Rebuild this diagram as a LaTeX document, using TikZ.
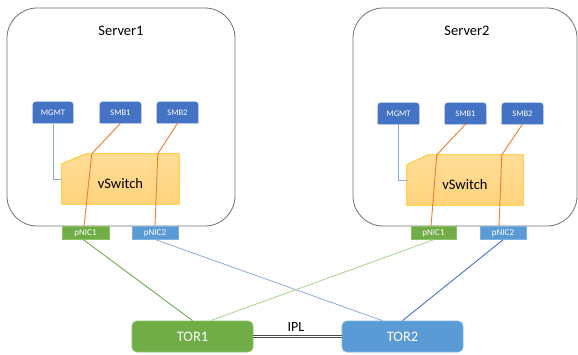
\documentclass[tikz,border=0pt]{standalone}
\usepackage{fontspec}
\setmainfont{Carlito}
\usetikzlibrary{backgrounds,calc}
\definecolor{srvgray}{HTML}{707070}
\definecolor{tabblue}{HTML}{4472C4}
\definecolor{tabedge}{HTML}{5A86D2}
\definecolor{nicgreen}{HTML}{70AD47}
\definecolor{nicgreenedge}{HTML}{8CC168}
\definecolor{nicblue}{HTML}{5B9BD5}
\definecolor{nicblueedge}{HTML}{7FB1E0}
\definecolor{vstop}{HTML}{FFDD98}
\definecolor{vsbottom}{HTML}{FFD37C}
\definecolor{vsedge}{HTML}{FFC000}
\definecolor{vlan}{HTML}{ED7D31}
\definecolor{mgmtline}{HTML}{8FAADC}
\definecolor{lightgreen}{HTML}{A9D18E}
\definecolor{lightblue}{HTML}{8FAADC}
\definecolor{darkblue}{HTML}{4472C4}
\begin{document}
\begin{tikzpicture}[x=1pt,y=-1pt,
  every node/.style={inner sep=0pt},
  server/.style={draw=srvgray, line width=0.8pt, rounded corners=30pt, minimum height=218pt},
  title/.style={font=\fontsize{14.5}{17}\selectfont},
  tab/.style={minimum width=41pt, minimum height=21pt, text=white, font=\fontsize{8.5}{10}\selectfont},
  tabshape/.style={fill=tabblue, draw=tabedge, line width=0.5pt},
  nicg/.style={fill=nicgreen, draw=nicgreenedge, line width=0.6pt, minimum height=13pt, text=white, font=\fontsize{9}{10}\selectfont},
  nicb/.style={fill=nicblue, draw=nicblueedge, line width=0.6pt, minimum height=13pt, text=white, font=\fontsize{9}{10}\selectfont},
  switchbox/.style={minimum height=50pt, font=\fontsize{14.5}{17}\selectfont, text height=19pt},
  switchshape/.style={top color=vstop, bottom color=vsbottom, draw=vsedge, line width=0.7pt},
  tor/.style={minimum width=121pt, minimum height=31pt, rounded corners=5pt, text=white, font=\fontsize{14.5}{17}\selectfont, line width=0.7pt},
  vlanline/.style={draw=vlan, line width=0.9pt},
  mgmtlink/.style={draw=mgmtline, line width=0.9pt},
]
\useasboundingbox (0,0) rectangle (578,354);

% servers
\node[server, minimum width=228pt] (srv1) at (121,117) {};
\node[server, minimum width=224pt] (srv2) at (465,117) {};
\node[title] (srv1name) at (121,31) {Server1};
\node[title] (srv2name) at (467,31) {Server2};

% virtual adapters
\node[tab, minimum width=40pt] (mgmt1) at (53,112.5) {MGMT};
\node[tab] (smb11) at (120.5,112.5) {SMB1};
\node[tab] (smb21) at (177.5,112.5) {SMB2};
\node[tab] (mgmt2) at (398.5,113.5) {MGMT};
\node[tab] (smb12) at (465.5,113.5) {SMB1};
\node[tab] (smb22) at (522.5,113.5) {SMB2};

% virtual switches
\node[switchbox, minimum width=117pt] (vs1) at (120.5,179) {vSwitch};
\node[switchbox, minimum width=116pt] (vs2) at (465,180) {vSwitch};

% physical NICs
\node[nicg, minimum width=47pt] (pnic11) at (85.5,233) {pNIC1};
\node[nicb, minimum width=46pt] (pnic21) at (155,233) {pNIC2};
\node[nicg, minimum width=45pt] (pnic12) at (433.5,233) {pNIC1};
\node[nicb, minimum width=46pt] (pnic22) at (503,233) {pNIC2};

% top-of-rack switches
\node[tor, fill=nicgreen, draw=nicgreenedge] (tor1) at (192.5,336.5) {TOR1};
\node[tor, fill=nicblue, draw=nicblueedge] (tor2) at (402.5,336.5) {TOR2};
\node[font=\fontsize{14}{16}\selectfont] (ipl) at (296,327.5) {IPL};

\begin{scope}[on background layer]
  \foreach \n in {mgmt1,smb11,smb21,mgmt2,smb12,smb22}
    \path[tabshape] (\n.south west) [rounded corners=3pt] -- (\n.north west)
      -- (\n.north east) [sharp corners] -- (\n.south east) -- cycle;
  \foreach \n/\c in {vs1/24,vs2/21}
    \path[switchshape] (\n.south west) -- ($(\n.north west)+(0,10)$)
      -- ($(\n.north west)+(\c,0)$) -- (\n.north east) -- (\n.south east) -- cycle;
\end{scope}

% management links
\draw[mgmtlink] (mgmt1.south) |- (vs1.west);
\draw[mgmtlink] (mgmt2.south) |- (vs2.west);

% SMB links through the vSwitch to the NICs
\draw[vlanline] (smb11.south) -- ($(vs1.north west)+(30,0)$) -- ($(pnic11.north)+(-1.5,0)$);
\draw[vlanline] (smb21.south) -- ($(vs1.north west)+(96,0)$) -- (pnic21.north);
\draw[vlanline] (smb12.south) -- ($(vs2.north west)+(30,0)$) -- ($(pnic12.north)+(-2.5,0)$);
\draw[vlanline] (smb22.south) -- ($(vs2.north west)+(95,0)$) -- ($(pnic22.north)+(-4,0)$);

% uplinks
\draw[draw=nicgreen, line width=0.9pt] ($(pnic11.south)+(-2,0)$) -- (tor1.north);
\draw[draw=lightblue, line width=0.8pt] ($(pnic21.south)+(1,0)$) -- ($(tor2.north)+(-20,0)$);
\draw[draw=lightgreen, line width=0.8pt] (pnic12.south) -- ($(tor1.north)+(18,0)$);
\draw[draw=darkblue, line width=0.9pt] (pnic22.south) -- (tor2.north);

% inter-peer link
\draw[draw=black!70, double=white, double distance=1.6pt, line width=0.5pt] (tor1.east) -- (tor2.west);
\end{tikzpicture}
\end{document}
